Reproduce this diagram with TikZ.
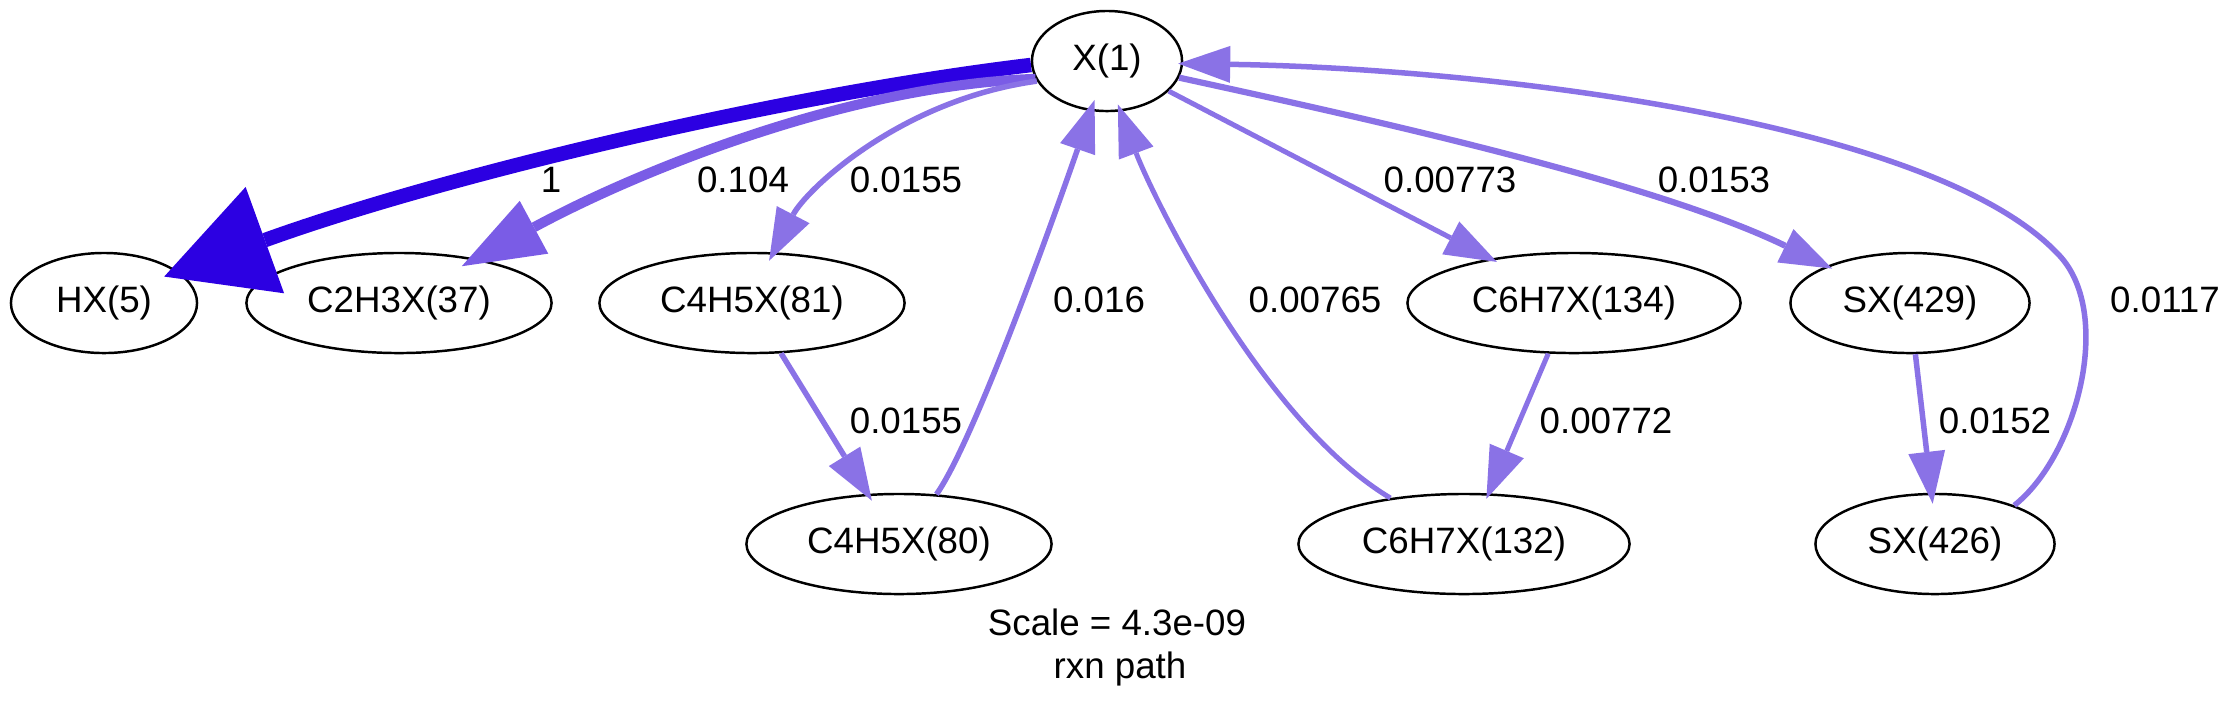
\documentclass[tikz,border=0pt]{standalone}
\usepackage{fontspec}
\setmainfont{Liberation Sans}
\usetikzlibrary{shapes.geometric,arrows.meta}
\definecolor{fdark}{RGB}{44,0,226}
\definecolor{fmid}{RGB}{122,92,230}
\definecolor{flight}{RGB}{138,114,230}
\begin{document}
\begin{tikzpicture}[x=0.01cm,y=-0.01cm,
  txt/.style={font=\fontsize{10.44pt}{12.5pt}\selectfont},
  sp/.style={txt, draw=black, line width=0.7pt, ellipse, inner sep=0pt, minimum height=1cm},
  lbl/.style={txt, anchor=base, inner sep=0pt},
  flux/.style={draw=flight, line width=0.055cm, -{Triangle[length=0.52cm,width=0.37cm,line width=0pt]}},
  fluxthin/.style={flux, line width=0.05cm},
  fluxmid/.style={draw=fmid, line width=0.1cm, -{Triangle[length=0.82cm,width=0.6cm,line width=0pt]}},
  fluxbig/.style={draw=fdark, line width=0.145cm, -{Triangle[length=1.07cm,width=1.13cm,line width=0pt]}},
]
\useasboundingbox (0,0) rectangle (2236,711);

% species
\node[sp, minimum width=1.5cm] (x1) at (1107,61) {X(1)};
\node[sp, minimum width=1.86cm] (hx) at (104,303) {HX(5)};
\node[sp, minimum width=3.05cm] (c2) at (399,303) {C2H3X(37)};
\node[sp, minimum width=3.05cm] (c81) at (752,303) {C4H5X(81)};
\node[sp, minimum width=3.33cm] (c134) at (1574,303) {C6H7X(134)};
\node[sp, minimum width=2.39cm] (sx429) at (1910,303) {SX(429)};
\node[sp, minimum width=3.05cm] (c80) at (899,544) {C4H5X(80)};
\node[sp, minimum width=3.31cm] (c132) at (1464,544) {C6H7X(132)};
\node[sp, minimum width=2.39cm] (sx426) at (1935,544) {SX(426)};

% fluxes
\draw[fluxbig, shorten >=-0.15cm] (x1.183.8) .. controls (780,95) and (442,176) .. (hx.23.9);
\draw[fluxmid, shorten >=-0.16cm] (x1.194.4) .. controls (850,85) and (640,170) .. (c2.30.2);
\draw[flux, shorten >=-0.096cm] (x1.196.3) .. controls (900,100) and (806,190) .. (c81.67.5);
\draw[flux, shorten >=-0.08cm] (c81.300.6) -- (c80.122.5);
\draw[flux, shorten >=-0.118cm] (c80.53.7) .. controls (975,440) and (1060,200) .. (x1.252.1);
\draw[fluxthin, shorten >=-0.073cm] (x1.334.9) -- (c134.152.3);
\draw[flux, line width=0.062cm, shorten >=-0.061cm] (x1.347.1) .. controls (1350,115) and (1650,180) .. (sx429.156.8);
\draw[fluxthin, shorten >=-0.06cm] (c134.243.4) -- (c132.64.7);
\draw[fluxthin, shorten >=-0.076cm] (c132.148) .. controls (1260,420) and (1150,190) .. (x1.285.2);
\draw[flux, shorten >=-0.11cm] (sx429.276.8) -- (sx426.94.8);
\draw[flux, shorten >=-0.05cm] (sx426.26.6) .. controls (2078,455) and (2115,310) .. (2057,253)
   .. controls (1930,120) and (1480,68) .. (x1.358.3);

% flux labels
\node[lbl] (l1) at (551,192) {1};
\node[lbl] (l2) at (743,192) {0.104};
\node[lbl] (l3) at (906,192) {0.0155};
\node[lbl] (l4) at (1450,192) {0.00773};
\node[lbl] (l5) at (1714,192) {0.0153};
\node[lbl] (l6) at (1099,312) {0.016};
\node[lbl] (l7) at (1315,312) {0.00765};
\node[lbl] (l8) at (2165,312) {0.0117};
\node[lbl] (l9) at (906,433) {0.0155};
\node[lbl] (l10) at (1606,433) {0.00772};
\node[lbl] (l11) at (1995,433) {0.0152};

% caption
\node[lbl] (cap1) at (1117,635) {Scale = 4.3e-09};
\node[lbl] (cap2) at (1120,678) {rxn path};
\end{tikzpicture}
\end{document}
